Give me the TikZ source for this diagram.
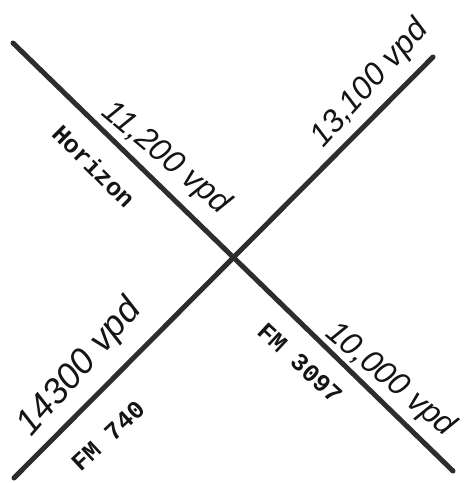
\documentclass[tikz,border=0pt]{standalone}
\usepackage{fontspec}
\usepackage{tikz}
\usetikzlibrary{positioning}
\setmonofont{Liberation Mono}
\newfontfamily\handfont{Liberation Sans}
\definecolor{roadGray}{RGB}{45,45,45}
\definecolor{inkGray}{RGB}{20,20,20}

\begin{document}
\begin{tikzpicture}[x=1pt, y=-1pt,
  road/.style={draw=roadGray, line width=5pt, line cap=round},
  roadname/.style={font=\ttfamily\bfseries\fontsize{25}{25}\selectfont, text=inkGray, inner sep=0pt},
  countlbl/.style={font=\handfont\itshape\fontsize{32}{32}\selectfont, text=inkGray, inner sep=0pt}
]
\useasboundingbox (0,0) rectangle (467,483);
%% Road ends
\coordinate (HZW) at (13,43);
\coordinate (HZE) at (453,471);
\coordinate (FMSW) at (14,478);
\coordinate (FMNE) at (433,57);
%% Roads
\draw[road] (HZW) -- (HZE);
\draw[road] (FMSW) -- (FMNE);
%% Road names
\node[roadname, rotate=-45] (hzname)  at (94,166)  {Horizon};
\node[roadname, rotate=43]  (fm740)   at (108,436) {FM 740};
\node[roadname, rotate=-43] (fm3097)  at (300,363) {FM 3097};
%% Traffic counts
\node[countlbl, rotate=-40] (cntNW) at (166,158) {11,200 vpd};
\node[countlbl, rotate=48]  (cntNE) at (370,84)  {13,100 vpd};
\node[countlbl, rotate=49, font=\handfont\itshape\fontsize{36}{36}\selectfont] (cntSW) at (80,368) {14300 vpd};
\node[countlbl, rotate=-40] (cntSE) at (390,380) {10,000 vpd};
\end{tikzpicture}
\end{document}
